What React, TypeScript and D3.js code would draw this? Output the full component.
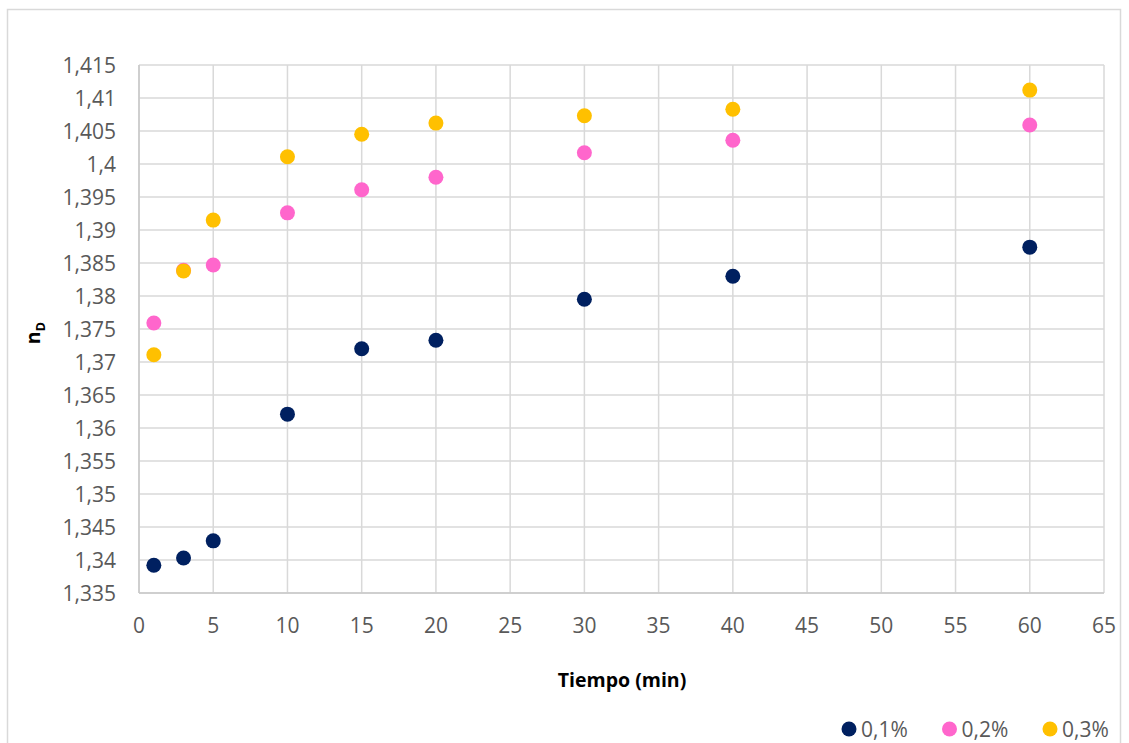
import React from "react";
import * as d3 from "d3";

const times = [1, 3, 5, 10, 15, 20, 30, 40, 60];
const s01 = [1.3392, 1.3403, 1.3429, 1.3621, 1.372, 1.3733, 1.3795, 1.383, 1.3874];
const s02 = [1.3759, 1.3839, 1.3847, 1.3926, 1.3961, 1.398, 1.4017, 1.4036, 1.4059];
const s03 = [1.3711, 1.3838, 1.3915, 1.4011, 1.4045, 1.4062, 1.4073, 1.4083, 1.4112];
const seriesNames = ["0,1%", "0,2%", "0,3%"];
const seriesColors = ["#002060", "#FF66CC", "#FFC000"];
const xTicks = [0, 5, 10, 15, 20, 25, 30, 35, 40, 45, 50, 55, 60, 65];
const yTicks = [1.335, 1.34, 1.345, 1.35, 1.355, 1.36, 1.365, 1.37, 1.375, 1.38, 1.385, 1.39, 1.395, 1.4, 1.405, 1.41, 1.415];

const W = 1129, H = 743;
const left = 139, right = 1104, top = 65, bottom = 593;
const font = "'Open Sans', sans-serif";

const fmt = (v: number) => {
  const s = String(+v.toFixed(3));
  return s.replace(".", ",");
};

export default function App() {
  const x = d3.scaleLinear().domain([0, 65]).range([left, right]);
  const y = d3.scaleLinear().domain([1.335, 1.415]).range([bottom, top]);
  const all = [s01, s02, s03];
  return (
    <svg width={W} height={H} style={{ position: "absolute", left: 0, top: 0 }}>
      <rect x={0} y={0} width={W} height={H} fill="#fff" />
      <rect x={7.5} y={9.5} width={1113} height={745} fill="none" stroke="#d9d9d9" strokeWidth={1.5} />
      {yTicks.map((t) => (
        <line key={"gy" + t} x1={left} x2={right} y1={y(t)} y2={y(t)} stroke="#d9d9d9" strokeWidth={1.5} />
      ))}
      {xTicks.map((t) => (
        <line key={"gx" + t} x1={x(t)} x2={x(t)} y1={top} y2={bottom} stroke="#d9d9d9" strokeWidth={1.5} />
      ))}
      <line x1={left} x2={left} y1={top} y2={bottom} stroke="#c8c8c8" strokeWidth={1.5} />
      <line x1={left} x2={right} y1={bottom} y2={bottom} stroke="#c8c8c8" strokeWidth={1.5} />
      {yTicks.map((t) => (
        <text key={"ty" + t} x={116} y={y(t)} dy="0.36em" textAnchor="end" fontFamily={font} fontSize={21} fill="#595959">
          {fmt(t)}
        </text>
      ))}
      {xTicks.map((t) => (
        <text key={"tx" + t} x={x(t)} y={633} textAnchor="middle" fontFamily={font} fontSize={21} fill="#595959">
          {t}
        </text>
      ))}
      <text x={622} y={687} textAnchor="middle" fontFamily={font} fontSize={19.5} fontWeight="bold" fill="#000">
        Tiempo (min)
      </text>
      <text transform="translate(40,333) rotate(-90)" textAnchor="middle" fontFamily={font} fontSize={19.5} fontWeight="bold" fill="#000">
        n<tspan fontSize={13} dy={5}>D</tspan>
      </text>
      {all.map((s, si) =>
        s.map((v, i) => (
          <circle key={si + "-" + i} cx={x(times[i])} cy={y(v)} r={7.5} fill={seriesColors[si]} />
        ))
      )}
      {seriesNames.map((n, i) => (
        <g key={n} transform={`translate(${849 + i * 100.5},729)`}>
          <circle cx={0} cy={0} r={7.5} fill={seriesColors[i]} />
          <text x={12} y={0} dy="0.36em" fontFamily={font} fontSize={21} fill="#595959">
            {n}
          </text>
        </g>
      ))}
    </svg>
  );
}
